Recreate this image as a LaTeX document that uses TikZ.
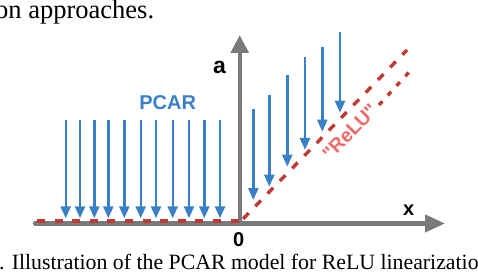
\documentclass[tikz,border=0pt]{standalone}
\usepackage{fontspec}
\setmainfont{Liberation Serif}
\newfontfamily\lblfont{Liberation Sans}
\usetikzlibrary{arrows.meta}
\definecolor{axisgray}{RGB}{122,122,122}
\definecolor{arrowblue}{RGB}{58,128,200}
\definecolor{dashred}{RGB}{192,57,50}
\definecolor{relupink}{RGB}{242,105,105}
\tikzset{
  axisline/.style={draw=axisgray, line width=4.2pt},
  pcarrow/.style={draw=arrowblue, line width=2.4pt, -{Triangle[length=12pt,width=10pt]}},
  redash/.style={draw=dashred, line width=3.4pt, dash pattern=on 8pt off 9.6pt},
  lbl/.style={inner sep=0pt, font=\lblfont\bfseries\fontsize{20}{24}\selectfont},
  serif/.style={inner sep=0pt, anchor=base west}
}
\begin{document}
\begin{tikzpicture}[x=1pt,y=-1pt]
\useasboundingbox (0,0) rectangle (478,280);
\clip (0,0) rectangle (478,280);
% surrounding paper text
\node[serif, font=\fontsize{26.5}{30}\selectfont] (toptext) at (-5,19) {on approaches.};
\node[serif, font=\fontsize{21.8}{25}\selectfont] (caption) at (-12,269.5) {1. Illustration of the PCAR model for ReLU linearization};
% axes
\coordinate (xstart) at (35,223.5);
\coordinate (origin) at (239.7,223.5);
\coordinate (xend) at (445,223.5);
\coordinate (yend) at (239.7,35);
\draw[axisline, line cap=round] (xstart) -- (origin);
\draw[axisline, -{Triangle[length=20pt,width=17pt]}] (origin) -- (xend);
\draw[axisline, -{Triangle[length=18pt,width=17.5pt]}] (origin) -- (yend);
% red dashed lines
\coordinate (hstart) at (37,221);
\coordinate (hend) at (239,221);
\draw[redash] (hstart) -- (hend);
\coordinate (dstart) at (241,221);
\coordinate (dend) at (407,50);
\draw[redash, dash phase=-3pt] (dstart) -- (dend);
\coordinate (d2start) at (379,105);
\coordinate (d2end) at (411,70);
\draw[redash, dash pattern=on 5pt off 8pt] (d2start) -- (d2end);
% blue arrows, left
\foreach \i/\xx in {1/65.7,2/80,3/94.3,4/108.3,5/124.3,6/140.7,7/156,8/172.7,9/189,10/204.3,11/220}{
  \coordinate (lt\i) at (\xx,120);
  \coordinate (lb\i) at (\xx,218.3);
  \draw[pcarrow] (lt\i) -- (lb\i);
}
% blue arrows, right
\foreach \i/\xx/\ya/\yb in {1/253.3/109/200, 2/269.3/95/186.7, 3/287.3/75/166.7, 4/305/57/150, 5/322.3/47/131.7, 6/340/32/112.7}{
  \coordinate (rt\i) at (\xx,\ya);
  \coordinate (rb\i) at (\xx,\yb);
  \draw[pcarrow] (rt\i) -- (rb\i);
}
% labels
\node[lbl, font=\lblfont\bfseries\fontsize{23}{26}\selectfont] (alabel) at (219.5,67) {a};
\node[lbl] (xlabel) at (408.7,210) {x};
\node[lbl] (zlabel) at (238.8,239.7) {0};
\node[lbl, text=arrowblue] (pcar) at (167.7,102.5) {PCAR};
\node[lbl, text=relupink, rotate=45.8, font=\lblfont\bfseries\fontsize{19.5}{22}\selectfont] (relu) at (350,132) {"ReLU"};
\end{tikzpicture}
\end{document}
